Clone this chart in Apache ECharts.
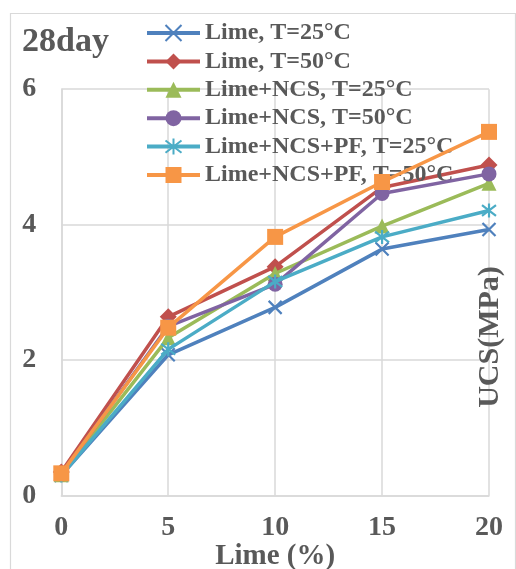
<!DOCTYPE html>
<html>
<head>
<meta charset="utf-8">
<script src="https://cdn.jsdelivr.net/npm/echarts@6/dist/echarts.min.js"></script>
<style>
  html, body { margin: 0; padding: 0; background: #fff; }
  #chart { width: 516px; height: 569px; }
</style>
</head>
<body>
<div id="chart"></div>
<script>
// Lime content (%) on the x axis
const limeContent = [0, 5, 10, 15, 20];

// 28-day UCS (MPa) for each mix / curing temperature
const limeT25 = [0.30, 2.08, 2.78, 3.64, 3.93];
const limeT50 = [0.35, 2.64, 3.38, 4.55, 4.88];
const ncsT25 = [0.31, 2.33, 3.28, 3.98, 4.61];
const ncsT50 = [0.32, 2.50, 3.12, 4.46, 4.75];
const ncsPfT25 = [0.30, 2.16, 3.16, 3.82, 4.21];
const ncsPfT50 = [0.33, 2.48, 3.82, 4.63, 5.37];

const seriesNames = [
  'Lime, T=25°C',
  'Lime, T=50°C',
  'Lime+NCS, T=25°C',
  'Lime+NCS, T=50°C',
  'Lime+NCS+PF, T=25°C',
  'Lime+NCS+PF, T=50°C'
];
const seriesValues = [limeT25, limeT50, ncsT25, ncsT50, ncsPfT25, ncsPfT50];

const xTicks = [0, 5, 10, 15, 20];
const yTicks = [0, 2, 4, 6];

const colors = ['#4F81BD', '#C0504D', '#9BBB59', '#8064A2', '#4BACC6', '#F79646'];
const crossPath = 'path://M0,0L10,10M10,0L0,10';
const starPath = 'path://M0,0L10,10M10,0L0,10M5,-1.5L5,11.5';
const symbols = [crossPath, 'diamond', 'triangle', 'circle', starPath, 'rect'];
const symbolSizes = [13, 17, 15, 15, 14, 16];

const textColor = '#595959';
const font = '"Liberation Serif", "Times New Roman", serif';

const series = seriesNames.map((name, i) => {
  const isStroke = i === 0 || i === 4;
  return {
    name,
    type: 'line',
    data: limeContent.map((x, j) => [x, seriesValues[i][j]]),
    symbol: symbols[i],
    symbolSize: symbolSizes[i],
    showAllSymbol: true,
    lineStyle: { color: colors[i], width: 3.5 },
    itemStyle: isStroke
      ? { color: colors[i], borderColor: colors[i], borderWidth: 2.2 }
      : { color: colors[i], borderWidth: 0 },
    emphasis: { disabled: true },
    z: 2 + i
  };
});

const chart = echarts.init(document.getElementById('chart'), null, { renderer: 'canvas' });
chart.setOption({
  animation: false,
  backgroundColor: '#ffffff',
  color: colors,
  textStyle: { fontFamily: font },
  grid: {
    left: 61.3, right: 27, top: 89.2, bottom: 73.3,
    containLabel: false,
    outerBoundsMode: 'none'
  },
  title: {
    text: '28day',
    left: 17,
    top: 20,
    textStyle: { fontFamily: font, fontWeight: 'bold', fontSize: 34, color: textColor }
  },
  legend: {
    orient: 'vertical',
    left: 145,
    top: 21,
    itemWidth: 53,
    itemHeight: 20,
    itemGap: 4.4,
    padding: 0,
    data: seriesNames,
    selectedMode: false,
    lineStyle: { width: 4 },
    textStyle: { fontFamily: font, fontWeight: 'bold', fontSize: 24, lineHeight: 24, color: textColor }
  },
  xAxis: {
    type: 'value',
    min: xTicks[0],
    max: xTicks[xTicks.length - 1],
    interval: xTicks[1] - xTicks[0],
    name: 'Lime (%)',
    nameLocation: 'middle',
    nameGap: 46,
    nameMoveOverlap: false,
    nameTextStyle: { fontFamily: font, fontWeight: 'bold', fontSize: 29, color: textColor },
    axisLine: { show: true, lineStyle: { color: '#d9d9d9', width: 1.5 } },
    axisTick: { show: false },
    axisLabel: { margin: 18, fontFamily: font, fontWeight: 'bold', fontSize: 28, color: textColor },
    splitLine: { show: true, lineStyle: { color: '#d9d9d9', width: 1.5 } }
  },
  yAxis: {
    type: 'value',
    min: yTicks[0],
    max: yTicks[yTicks.length - 1],
    interval: yTicks[1] - yTicks[0],
    axisLine: { show: true, lineStyle: { color: '#d9d9d9', width: 1.5 } },
    axisTick: { show: false },
    axisLabel: { margin: 25, fontFamily: font, fontWeight: 'bold', fontSize: 28, color: textColor },
    splitLine: { show: true, lineStyle: { color: '#d9d9d9', width: 1.5 } }
  },
  graphic: [
    {
      type: 'rect',
      z: -10,
      silent: true,
      shape: { x: 10.5, y: 13.5, width: 505, height: 570 },
      style: { fill: 'none', stroke: '#d9d9d9', lineWidth: 1.2 }
    },
    {
      type: 'text',
      z: 100,
      silent: true,
      x: 490,
      y: 337,
      rotation: Math.PI / 2,
      style: {
        text: 'UCS(MPa)',
        fontFamily: font,
        fontWeight: 'bold',
        fontSize: 30,
        fill: textColor,
        align: 'center',
        verticalAlign: 'middle'
      }
    }
  ],
  series
});
</script>
</body>
</html>
